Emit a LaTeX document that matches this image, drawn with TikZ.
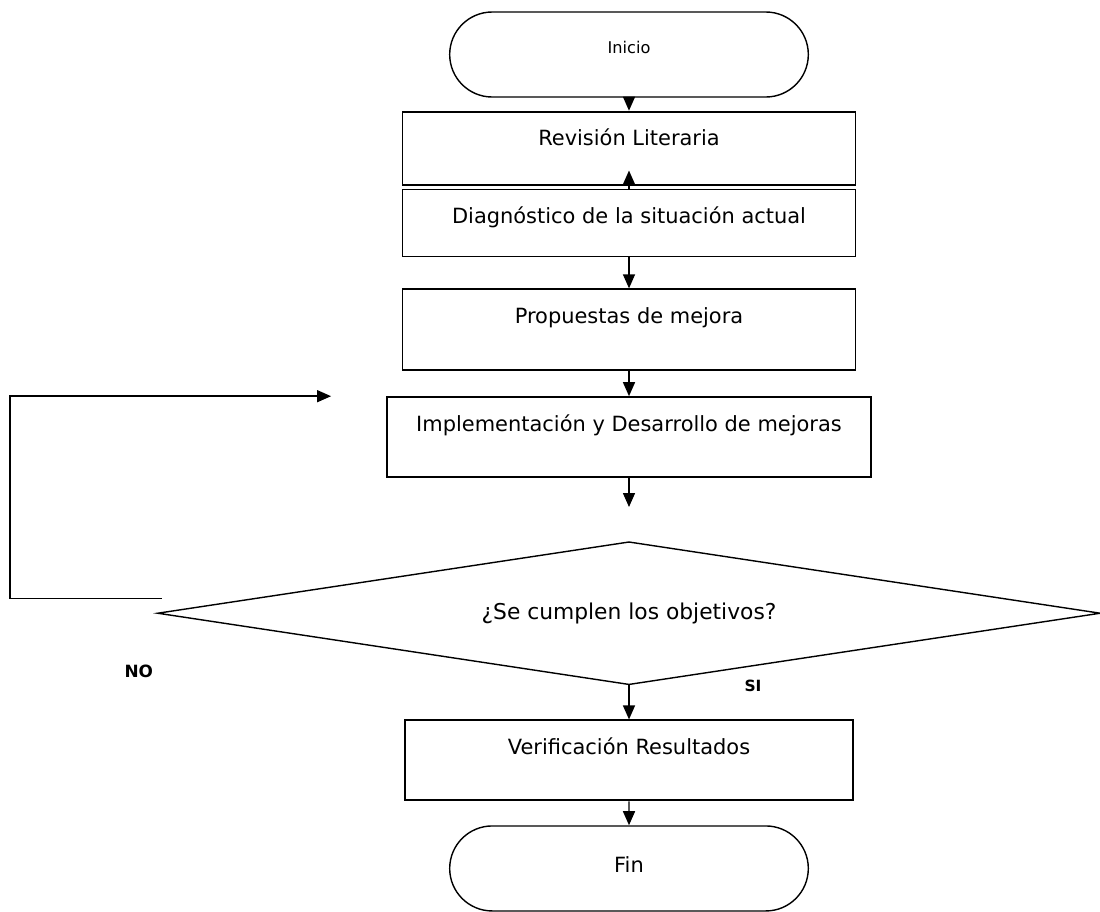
\documentclass[tikz,border=0pt]{standalone}
\usepackage{fontspec}
\setmainfont{DejaVu Sans}
\usetikzlibrary{arrows.meta, positioning, shapes.geometric, shapes.misc}

\begin{document}
\begin{tikzpicture}[
    box/.style={
        rectangle,
        draw,
        line width=1.3pt,
        align=center,
        minimum width=11.325cm,
        inner ysep=0pt,
        text height=0.85cm,
        font=\fontsize{14.9}{18}\selectfont
    },
    term/.style={
        rounded rectangle,
        draw,
        line width=1pt,
        minimum width=9.2cm,
        inner ysep=0pt,
        font=\fontsize{14.9}{18}\selectfont
    },
    cond/.style={
        diamond,
        draw,
        line width=1pt,
        aspect=6.6,
        inner sep=0pt,
        minimum width=23.575cm,
        minimum height=3.575cm,
        font=\fontsize{15.5}{19}\selectfont
    },
    arrow/.style={-{Triangle[length=0.35cm, width=0.3cm]}, line width=1pt},
    lbl/.style={font=\bfseries\fontsize{12}{14}\selectfont}
]

\useasboundingbox (0,0) rectangle (27.5,-22.8);

\node[term, text height=1.025cm, text depth=1.1cm, font=\fontsize{11.5}{14}\selectfont] (inicio) at (15.725,-1.3625) {Inicio};
\node[box, below=0.325cm of inicio, text depth=0.975cm] (revision) {Revisión Literaria};
\node[box, below=0.075cm of revision, text depth=0.825cm] (diag) {Diagnóstico de la situación actual};
\node[box, below=0.775cm of diag, text depth=1.175cm] (prop) {Propuestas de mejora};
\node[box, below=0.625cm of prop, minimum width=12.1cm, text depth=1.15cm] (impl) {Implementación y Desarrollo de mejoras};
\node[cond, below=1.575cm of impl] (check) {¿Se cumplen los objetivos?};
\node[box, below=0.85cm of check, minimum width=11.2cm, text depth=1.15cm] (verif) {Verificación Resultados};
\node[term, below=0.6cm of verif, text height=1.175cm, text depth=0.95cm] (fin) {Fin};

\coordinate[below=0.725cm of impl] (implend);
\coordinate (loopstart) at ([xshift=0.125cm, yshift=0.375cm]check.west);
\coordinate[left=1.375cm of impl.north west] (loopend);

\node[lbl] (no) at ([xshift=-0.45cm, yshift=-1.45cm]check.west) {NO};
\node[lbl, font=\bfseries\fontsize{11}{13}\selectfont] (si) at ([xshift=3.1cm]check.south) {SI};

\draw[arrow] (inicio) -- (revision);
\draw[arrow] (diag.north) -- ([yshift=0.375cm]revision.south);
\draw[arrow] (diag) -- (prop);
\draw[arrow] (prop) -- (impl);
\draw[arrow] (impl) -- (implend);
\draw[arrow] (loopstart) -- ++(-3.8cm,0) |- (loopend);
\draw[arrow] (check) -- (verif);
\draw[arrow] (verif) -- (fin);

\end{tikzpicture}
\end{document}
